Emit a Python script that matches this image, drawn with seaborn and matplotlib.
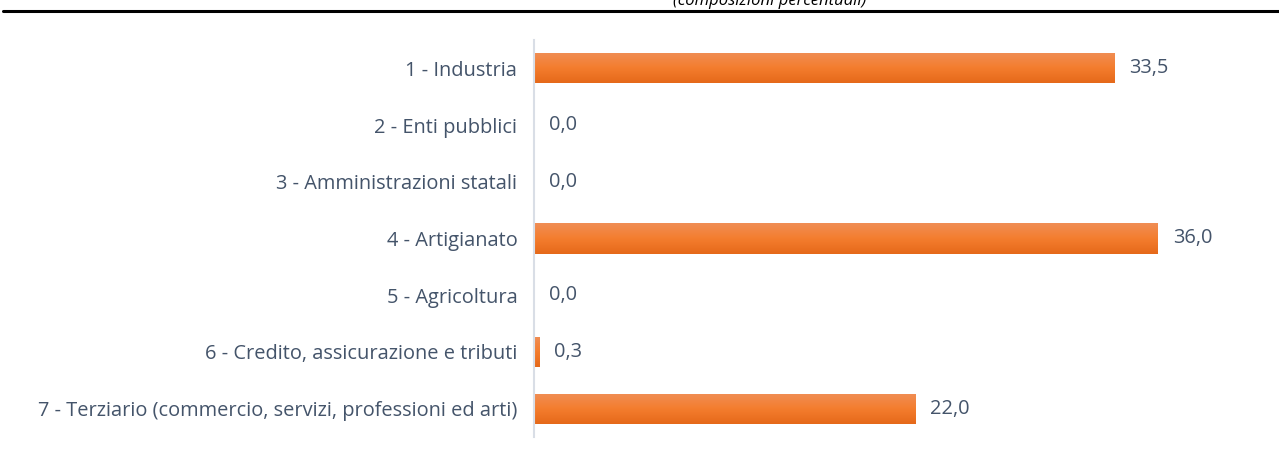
import numpy as np
import pandas as pd
import matplotlib.pyplot as plt
import seaborn as sns
from matplotlib.lines import Line2D

# data
categories = [
    "1 - Industria",
    "2 - Enti pubblici",
    "3 - Amministrazioni statali",
    "4 - Artigianato",
    "5 - Agricoltura",
    "6 - Credito, assicurazione e tributi",
    "7 - Terziario (commercio, servizi, professioni ed arti)",
]
values = [33.5, 0.0, 0.0, 36.0, 0.0, 0.3, 22.0]
subtitle = "(composizioni percentuali)"

df = pd.DataFrame({"settore": categories, "quota": values})

sns.set_style("white")
plt.rcParams["font.family"] = ["Open Sans", "DejaVu Sans"]

text_col = "#44546A"
bar_col = "#EE7A2E"

fig = plt.figure(figsize=(12.79, 4.57), dpi=100)
ax = fig.add_axes([534 / 1279, 20 / 457, (1262 - 534) / 1279, 397 / 457])

sns.barplot(data=df, x="quota", y="settore", orient="h", color=bar_col,
            width=0.53, saturation=1, ax=ax)

# gradient on the bars
grad = np.linspace(0, 1, 64).reshape(-1, 1)
cmap = plt.matplotlib.colors.LinearSegmentedColormap.from_list(
    "org", ["#F08E55", "#F47D2E", "#E5691A"])
for p in ax.patches:
    x0, y0 = p.get_x(), p.get_y()
    w, h = p.get_width(), p.get_height()
    if w <= 0:
        continue
    im = ax.imshow(grad, extent=[x0, x0 + w, y0 + h, y0], aspect="auto",
                   cmap=cmap, zorder=p.get_zorder() + 0.1)
    im.set_clip_path(p)

ax.set_xlim(0, 42)
ax.set_ylim(6.5, -0.5)
ax.set_xlabel("")
ax.set_ylabel("")
ax.set_xticks([])
for s in ["top", "right", "bottom"]:
    ax.spines[s].set_visible(False)
ax.spines["left"].set_color("#D9DEE6")
ax.spines["left"].set_linewidth(1.5)
ax.tick_params(axis="y", length=0, pad=12, labelsize=14.4, labelcolor=text_col)

for i, v in enumerate(values):
    ax.text(v + 0.85, i, f"{v:.1f}".replace(".", ","), va="center", ha="left",
            fontsize=14.4, color=text_col)

# header line and cut-off subtitle
fig.add_artist(Line2D([3 / 1279, 1], [1 - 10.5 / 457] * 2, color="black",
                      lw=2.2, transform=fig.transFigure))
fig.text(770 / 1279, 1 - 1 / 457, subtitle, ha="center", va="center",
         fontsize=12, style="italic", color="black")

fig.savefig("out.png", dpi=100)
